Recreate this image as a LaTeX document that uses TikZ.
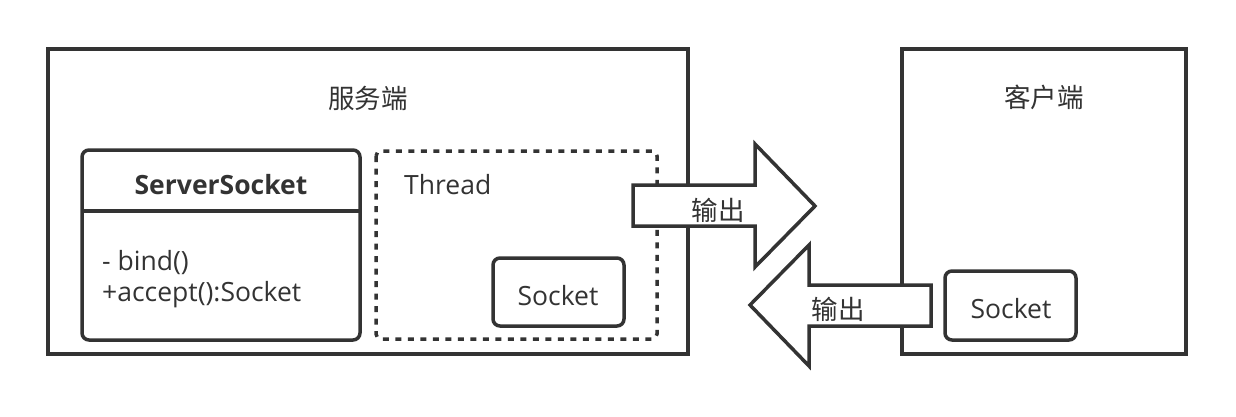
\documentclass[tikz,border=0pt]{standalone}
\usepackage{fontspec}
\setmainfont{Open Sans}
\newfontfamily\cjk{Noto Sans CJK SC}
\definecolor{ink}{HTML}{333333}
\begin{document}
\begin{tikzpicture}[x=1pt,y=-1pt,
  every node/.style={text=ink,font=\fontsize{26.5}{31}\selectfont,inner sep=0pt},
  frame/.style={draw=ink,line width=3.5pt},
  rbox/.style={draw=ink,line width=3.5pt,rounded corners=7pt},
  dotbox/.style={draw=ink,line width=3.5pt,dash pattern=on 6pt off 6.5pt,rounded corners=5pt},
  blockarrow/.style={draw=ink,line width=3.5pt,fill=white,line join=miter},
  cjklabel/.style={font=\cjk\fontsize{26.5}{31}\selectfont}]
\useasboundingbox (0,0) rectangle (1236,416);
% server
\draw[frame] (48,49) rectangle (688,354);
\node[cjklabel] (srvlabel) at (368,98) {服务端};
\draw[rbox] (82,150) rectangle (360,340);
\draw[ink,line width=3.5pt] (82,211) -- (360,211);
\node[font=\bfseries\fontsize{26.5}{31}\selectfont] (sstitle) at (221,185) {ServerSocket};
\node[anchor=west,align=left] (ssbody) at (102,279) {- bind()\\+accept():Socket};
\draw[dotbox] (376,151) rectangle (657,339);
\node[anchor=west] (thread) at (404,185) {Thread};
\draw[rbox] (493,258) rectangle (624,326);
\node (sock1) at (558,296) {Socket};
% client
\draw[frame] (902,49) rectangle (1186,354);
\node[cjklabel] (clilabel) at (1044,97) {客户端};
\draw[rbox] (945,271) rectangle (1076,340);
\node (sock2) at (1011,309) {Socket};
% arrows
\draw[blockarrow] (633,185) -- (755,185) -- (755,144) -- (815,206) -- (755,267) -- (755,226) -- (633,226) -- cycle;
\node[cjklabel] (out1) at (718,210) {输出};
\draw[blockarrow] (931,285) -- (809,285) -- (809,245) -- (750,305) -- (809,366) -- (809,326) -- (931,326) -- cycle;
\node[cjklabel] (out2) at (838,309) {输出};
\end{tikzpicture}
\end{document}
